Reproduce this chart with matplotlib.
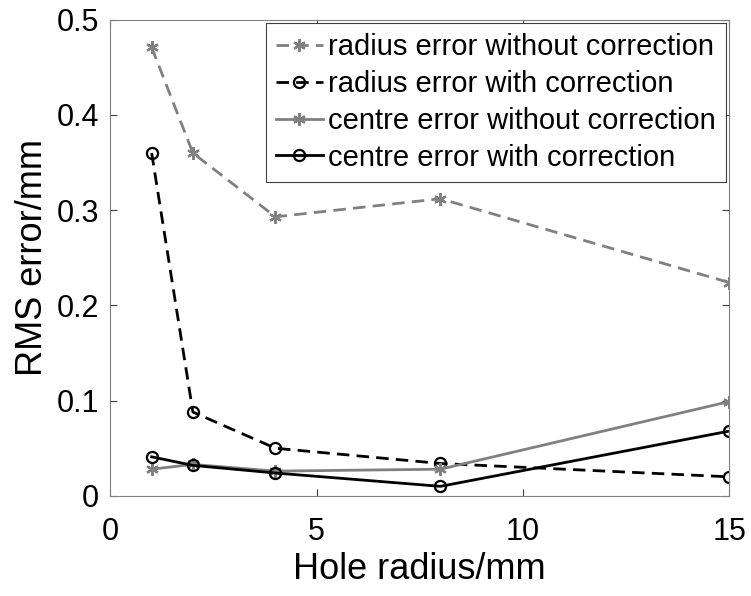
import matplotlib
matplotlib.use('Agg')
import matplotlib.pyplot as plt
from matplotlib.ticker import FuncFormatter

plt.rcParams['font.family'] = ['Liberation Sans', 'DejaVu Sans']

hole_radius = [1, 2, 4, 8, 15]
radius_no_corr = [0.471, 0.360, 0.293, 0.312, 0.224]
radius_corr = [0.360, 0.088, 0.050, 0.034, 0.020]
centre_no_corr = [0.028, 0.033, 0.026, 0.028, 0.099]
centre_corr = [0.041, 0.032, 0.024, 0.010, 0.068]

labels = ['radius error without correction', 'radius error with correction',
          'centre error without correction', 'centre error with correction']

gray = '#808080'
star = (6, 2, 0)
dash = (4.5, 2.6)

fig = plt.figure(figsize=(7.51, 5.96), dpi=100)
ax = fig.add_axes([0.147, 0.168, 0.824, 0.799])

ax.plot(hole_radius, radius_no_corr, '--', dashes=dash, color=gray, marker=star, ms=9, mew=1.6,
        lw=2, label=labels[0])
ax.plot(hole_radius, radius_corr, '--', dashes=dash, color='black', marker='o', ms=8, mfc='none',
        mew=1.6, lw=2, label=labels[1])
ax.plot(hole_radius, centre_no_corr, '-', color=gray, marker=star, ms=9, mew=1.6, lw=2,
        label=labels[2])
ax.plot(hole_radius, centre_corr, '-', color='black', marker='o', ms=8, mfc='none', mew=1.6,
        lw=2, label=labels[3])

ax.set_xlim(0, 15)
ax.set_ylim(0, 0.5)
ax.set_xticks([0, 5, 10, 15])
ax.set_yticks([0, 0.1, 0.2, 0.3, 0.4, 0.5])
ax.yaxis.set_major_formatter(FuncFormatter(lambda v, p: '0' if v == 0 else f'{v:g}'))
ax.tick_params(direction='in', top=True, right=True, labelsize=22, length=5, color='#404040')
ax.tick_params(axis='x', pad=15)
ax.tick_params(axis='y', pad=8)
for s in ax.spines.values():
    s.set_color('#808080')
ax.set_xlabel('Hole radius/mm', fontsize=26, labelpad=4)
ax.set_ylabel('RMS error/mm', fontsize=26, labelpad=5)

leg = ax.legend(loc='upper right', fontsize=21, fancybox=False, framealpha=1,
                edgecolor='#404040', handlelength=1.6, borderaxespad=0.12,
                labelspacing=0.3, handletextpad=0.17, borderpad=0.35)
leg.get_frame().set_linewidth(0.8)

fig.savefig('out.png', dpi=100)
